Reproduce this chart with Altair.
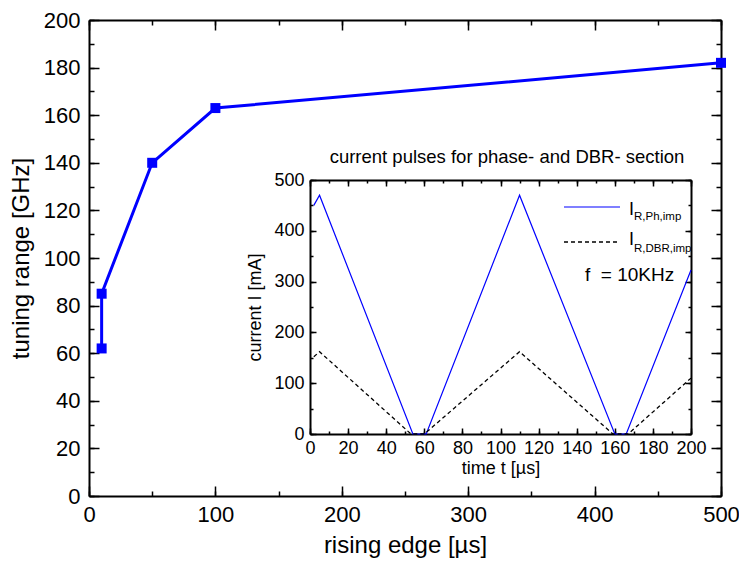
import altair as alt
import pandas as pd

# ---- data -------------------------------------------------------------
# main plot: tuning range vs rising edge
edge_us = [10, 10, 50, 100, 500]
tuning_ghz = [62, 85, 140, 163, 182]

# inset: current pulses
t_ph = [2, 5, 54, 61, 110, 160, 166, 200]
i_ph = [450, 470, 0, 0, 470, 0, 0, 323]
t_dbr = [2, 5, 53, 60, 110, 159, 167, 200]
i_dbr = [152, 162, 0, 0, 162, 0, 0, 110]

main_x_labels = [0, 100, 200, 300, 400, 500]
main_x_ticks = [0, 50, 100, 150, 200, 250, 300, 350, 400, 450, 500]
main_y_labels = [0, 20, 40, 60, 80, 100, 120, 140, 160, 180, 200]
main_y_ticks = [0, 10, 20, 30, 40, 50, 60, 70, 80, 90, 100, 110, 120, 130,
                140, 150, 160, 170, 180, 190, 200]
inset_x_labels = [0, 20, 40, 60, 80, 100, 120, 140, 160, 180, 200]
inset_x_ticks = [0, 10, 20, 30, 40, 50, 60, 70, 80, 90, 100, 110, 120, 130,
                 140, 150, 160, 170, 180, 190, 200]
inset_y_labels = [0, 100, 200, 300, 400, 500]
inset_y_ticks = [0, 50, 100, 150, 200, 250, 300, 350, 400, 450, 500]

inset_title = "current pulses for phase- and DBR- section"
freq_text = "f\u00a0 = 10KHz"

# ---- layout -----------------------------------------------------------
W, H = 632, 476
FONT = "Liberation Sans"
IX0, IX1, IY0, IY1 = 221, 602, 160, 414   # inset plot box inside main plot

main_df = pd.DataFrame({"edge": edge_us, "tuning": tuning_ghz,
                        "idx": list(range(len(edge_us)))})
ph_df = pd.DataFrame({"t": t_ph, "i": i_ph, "idx": list(range(len(t_ph)))})
dbr_df = pd.DataFrame({"t": t_dbr, "i": i_dbr, "idx": list(range(len(t_dbr)))})

mx = alt.Scale(domain=[0, 500], nice=False, zero=False)
my = alt.Scale(domain=[0, 200], nice=False, zero=False)
ix = alt.Scale(domain=[0, 200], range=[IX0, IX1], nice=False, zero=False)
iy = alt.Scale(domain=[0, 500], range=[IY1, IY0], nice=False, zero=False)


def tick_axis(orient, offset, values, size, domain=False):
    return alt.Axis(
        orient=orient, offset=offset, values=values, labels=False,
        domain=domain, domainColor="black", domainWidth=2,
        ticks=True, tickColor="black", tickWidth=1.5, tickSize=size,
        grid=False)


def tick_layer(df, xf, yf, xs, ys, xo, xoff, yo, yoff, xv, yv, size, domain):
    return alt.Chart(df).mark_point(opacity=0).encode(
        x=alt.X(xf, scale=xs, title=None,
                axis=tick_axis(xo, xoff, xv, size, domain)),
        y=alt.Y(yf, scale=ys, title=None,
                axis=tick_axis(yo, yoff, yv, size, domain)))


# ---- main plot ----------------------------------------------------------
main_x_axis = alt.Axis(
    orient="bottom", values=main_x_labels, ticks=False, domain=True,
    domainColor="black", domainWidth=2, labelFont=FONT, labelFontSize=22,
    labelColor="black", labelPadding=8, labelFlush=False, labelOverlap=False,
    grid=False, title="rising edge [µs]", titleFont=FONT, titleFontSize=24,
    titleFontWeight="normal", titleColor="black", titlePadding=8)
main_y_axis = alt.Axis(
    orient="left", values=main_y_labels, ticks=False, domain=True,
    domainColor="black", domainWidth=2, labelFont=FONT, labelFontSize=22,
    labelColor="black", labelPadding=9, labelFlush=False, labelOverlap=False,
    grid=False, title="tuning range [GHz]", titleFont=FONT, titleFontSize=24,
    titleFontWeight="normal", titleColor="black", titlePadding=10)

main_line = alt.Chart(main_df).mark_line(color="#0000FF", strokeWidth=3).encode(
    x=alt.X("edge:Q", scale=mx, axis=main_x_axis),
    y=alt.Y("tuning:Q", scale=my, axis=main_y_axis),
    order="idx:Q")
main_pts = alt.Chart(main_df).mark_point(
    shape="square", filled=True, size=100, color="#0000FF", opacity=1).encode(
    x=alt.X("edge:Q", scale=mx, axis=None),
    y=alt.Y("tuning:Q", scale=my, axis=None))

mt = dict(df=main_df, xf="edge:Q", yf="tuning:Q", xs=mx, ys=my)
main_bl_major = tick_layer(**mt, xo="top", xoff=-H, yo="right", yoff=-W,
                           xv=main_x_labels, yv=main_y_labels, size=10, domain=False)
main_bl_minor = tick_layer(**mt, xo="top", xoff=-H, yo="right", yoff=-W,
                           xv=main_x_ticks, yv=main_y_ticks, size=5, domain=False)
main_tr_major = tick_layer(**mt, xo="bottom", xoff=-H, yo="left", yoff=-W,
                           xv=main_x_labels, yv=main_y_labels, size=10, domain=True)
main_tr_minor = tick_layer(**mt, xo="bottom", xoff=-H, yo="left", yoff=-W,
                           xv=main_x_ticks, yv=main_y_ticks, size=5, domain=False)

# ---- inset --------------------------------------------------------------
inset_x_axis = alt.Axis(
    orient="bottom", offset=IY1 - H, values=inset_x_labels, ticks=False,
    domain=True, domainColor="black", domainWidth=2, labelFont=FONT,
    labelFontSize=18, labelColor="black", labelPadding=5, labelFlush=False,
    labelOverlap=False, grid=False, title="time t [µs]", titleFont=FONT,
    titleFontSize=18, titleFontWeight="normal", titleColor="black",
    titlePadding=2)
inset_y_axis = alt.Axis(
    orient="left", offset=-IX0, values=inset_y_labels, ticks=False,
    domain=True, domainColor="black", domainWidth=2, labelFont=FONT,
    labelFontSize=18, labelColor="black", labelPadding=6, labelFlush=False,
    labelOverlap=False, grid=False, title="current I [mA]", titleFont=FONT,
    titleFontSize=18, titleFontWeight="normal", titleColor="black",
    titlePadding=9)

ph_line = alt.Chart(ph_df).mark_line(color="#0000FF", strokeWidth=1.2).encode(
    x=alt.X("t:Q", scale=ix, axis=inset_x_axis),
    y=alt.Y("i:Q", scale=iy, axis=inset_y_axis),
    order="idx:Q")
dbr_line = alt.Chart(dbr_df).mark_line(
    color="black", strokeWidth=1.3, strokeDash=[4, 3]).encode(
    x=alt.X("t:Q", scale=ix, axis=None),
    y=alt.Y("i:Q", scale=iy, axis=None),
    order="idx:Q")

it = dict(df=ph_df, xf="t:Q", yf="i:Q", xs=ix, ys=iy)
inset_bl_major = tick_layer(**it, xo="top", xoff=-IY1, yo="right", yoff=IX0 - W,
                            xv=inset_x_labels, yv=inset_y_labels, size=6, domain=False)
inset_bl_minor = tick_layer(**it, xo="top", xoff=-IY1, yo="right", yoff=IX0 - W,
                            xv=inset_x_ticks, yv=inset_y_ticks, size=3, domain=False)
inset_tr_major = tick_layer(**it, xo="bottom", xoff=IY0 - H, yo="left", yoff=-IX1,
                            xv=inset_x_labels, yv=inset_y_labels, size=6, domain=True)
inset_tr_minor = tick_layer(**it, xo="bottom", xoff=IY0 - H, yo="left", yoff=-IX1,
                            xv=inset_x_ticks, yv=inset_y_ticks, size=3, domain=False)

one = pd.DataFrame({"k": [0]})
title_txt = alt.Chart(one).mark_text(
    text=inset_title, font=FONT, fontSize=18.5, color="black",
    align="center", baseline="middle").encode(
    x=alt.value(418), y=alt.value(137))

leg_ph = alt.Chart(one).mark_rule(color="#0000FF", strokeWidth=1.2).encode(
    x=alt.value(475), x2=alt.value(531), y=alt.value(187))
leg_dbr = alt.Chart(one).mark_rule(
    color="black", strokeWidth=1.3, strokeDash=[4, 3]).encode(
    x=alt.value(475), x2=alt.value(529), y=alt.value(222))
leg_i1 = alt.Chart(one).mark_text(
    text="I", font=FONT, fontSize=18, color="black", align="left",
    baseline="alphabetic").encode(x=alt.value(540), y=alt.value(195))
leg_s1 = alt.Chart(one).mark_text(
    text="R,Ph,imp", font=FONT, fontSize=11.5, color="black", align="left",
    baseline="alphabetic").encode(x=alt.value(545), y=alt.value(199.5))
leg_i2 = alt.Chart(one).mark_text(
    text="I", font=FONT, fontSize=18, color="black", align="left",
    baseline="alphabetic").encode(x=alt.value(540), y=alt.value(225))
leg_s2 = alt.Chart(one).mark_text(
    text="R,DBR,imp", font=FONT, fontSize=11.5, color="black", align="left",
    baseline="alphabetic").encode(x=alt.value(545), y=alt.value(231.5))
freq = alt.Chart(one).mark_text(
    text=freq_text, font=FONT, fontSize=19, color="black", align="left",
    baseline="alphabetic").encode(x=alt.value(496), y=alt.value(260.5))

chart = alt.layer(
    main_bl_major, main_bl_minor, main_tr_major, main_tr_minor,
    main_line, main_pts,
    inset_bl_major, inset_bl_minor, inset_tr_major, inset_tr_minor,
    ph_line, dbr_line,
    title_txt, leg_ph, leg_dbr, leg_i1, leg_s1, leg_i2, leg_s2, freq,
).resolve_scale(x="independent", y="independent").resolve_axis(
    x="independent", y="independent"
).properties(
    width=W, height=H,
    autosize=alt.AutoSizeParams(type="none"),
    padding={"left": 81, "top": 12, "right": 18, "bottom": 63},
    background="white",
).configure_view(stroke=None)

chart.save("out.html", embed_options={"renderer": "svg", "actions": False})
